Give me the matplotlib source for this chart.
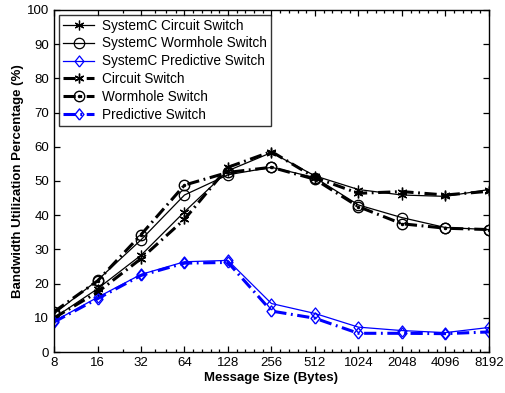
import numpy as np
import matplotlib
matplotlib.use("Agg")
import matplotlib.pyplot as plt
from matplotlib.legend_handler import HandlerTuple

plt.rcParams['font.family'] = ['Liberation Sans', 'DejaVu Sans']

sizes = [8, 16, 32, 64, 128, 256, 512, 1024, 2048, 4096, 8192]
tick_labels = [str(s) for s in sizes]

sysc_circuit = [10.0, 18.5, 28.3, 41.0, 53.0, 58.3, 51.5, 47.5, 45.9, 45.5, 47.5]
sysc_wormhole = [11.2, 21.0, 32.8, 45.9, 51.8, 54.0, 51.0, 43.0, 39.3, 36.4, 35.8]
sysc_predictive = [9.0, 16.0, 22.7, 26.4, 26.8, 14.2, 11.3, 7.3, 6.3, 5.7, 7.2]
circuit = [10.0, 17.5, 27.3, 38.8, 54.0, 58.6, 51.0, 46.4, 46.9, 45.9, 47.0]
wormhole = [11.8, 20.8, 34.3, 48.8, 52.5, 54.0, 50.5, 42.5, 37.5, 36.2, 35.8]
predictive = [8.8, 15.6, 22.4, 26.0, 26.2, 12.0, 9.9, 5.5, 5.5, 5.4, 5.9]

x = np.log2(sizes)

fig = plt.figure(figsize=(5.05, 3.93), dpi=100)
ax = fig.add_axes([0.107, 0.104, 0.861, 0.871])

diamond = [(0, -1), (0.8, 0), (0, 1), (-0.8, 0), (0, -1)]
dd = (4, 1.5, 0.6, 1.5)
h1, = ax.plot(x, sysc_circuit, '-', color='black', lw=0.9, marker=(6, 2, 0), ms=7, mew=0.9)
h2, = ax.plot(x, sysc_wormhole, '-', color='black', lw=0.9, marker='o', ms=7.5, mfc='none', mew=0.9)
h3, = ax.plot(x, sysc_predictive, '-', color='blue', lw=0.9, marker=diamond, ms=8, mfc='none', mew=0.9)
h4, = ax.plot(x, circuit, color='black', lw=2.2, dashes=dd, marker=(6, 2, 0), ms=7, mew=1.0)
h5, = ax.plot(x, wormhole, color='black', lw=2.2, dashes=dd, marker='o', ms=7.5, mfc='none', mew=1.0)
h5b, = ax.plot(x, wormhole, ls='none', color='black', marker='.', ms=3)
h6, = ax.plot(x, predictive, color='blue', lw=2.2, dashes=dd, marker=diamond, ms=8, mfc='none', mew=1.0)

ax.set_xlim(3, 13)
ax.set_ylim(0, 100)
ax.set_xticks(x)
ax.set_xticklabels(tick_labels)
ax.set_yticks(np.arange(0, 101, 10))

minor = [np.log2(24), np.log2(40), np.log2(48), np.log2(56)]
for k in range(6, 13):
    for j in range(1, 5):
        minor.append(k + j / 5)
ax.set_xticks(minor, minor=True)

ax.tick_params(which='both', direction='in', top=True, right=True, labelsize=9.5, width=0.9)
ax.tick_params(which='major', length=4)
ax.tick_params(which='minor', length=2)
for s in ax.spines.values():
    s.set_linewidth(1.0)

ax.set_xlabel('Message Size (Bytes)', fontsize=9.5, fontweight='bold', labelpad=2)
ax.set_ylabel('Bandwidth Utilization Percentage (%)', fontsize=9.5, fontweight='bold', labelpad=2)

leg = ax.legend([h1, h2, h3, h4, (h5, h5b), h6],
                ['SystemC Circuit Switch', 'SystemC Wormhole Switch', 'SystemC Predictive Switch',
                 'Circuit Switch', 'Wormhole Switch', 'Predictive Switch'],
                handler_map={tuple: HandlerTuple(ndivide=1)},
                loc='upper left', fontsize=9.8, frameon=True, fancybox=False,
                edgecolor='black', handlelength=2.3, borderaxespad=0.35,
                labelspacing=0.28, handletextpad=0.6, borderpad=0.3)
leg.get_frame().set_linewidth(1.0)

fig.savefig('out.png', dpi=100)
